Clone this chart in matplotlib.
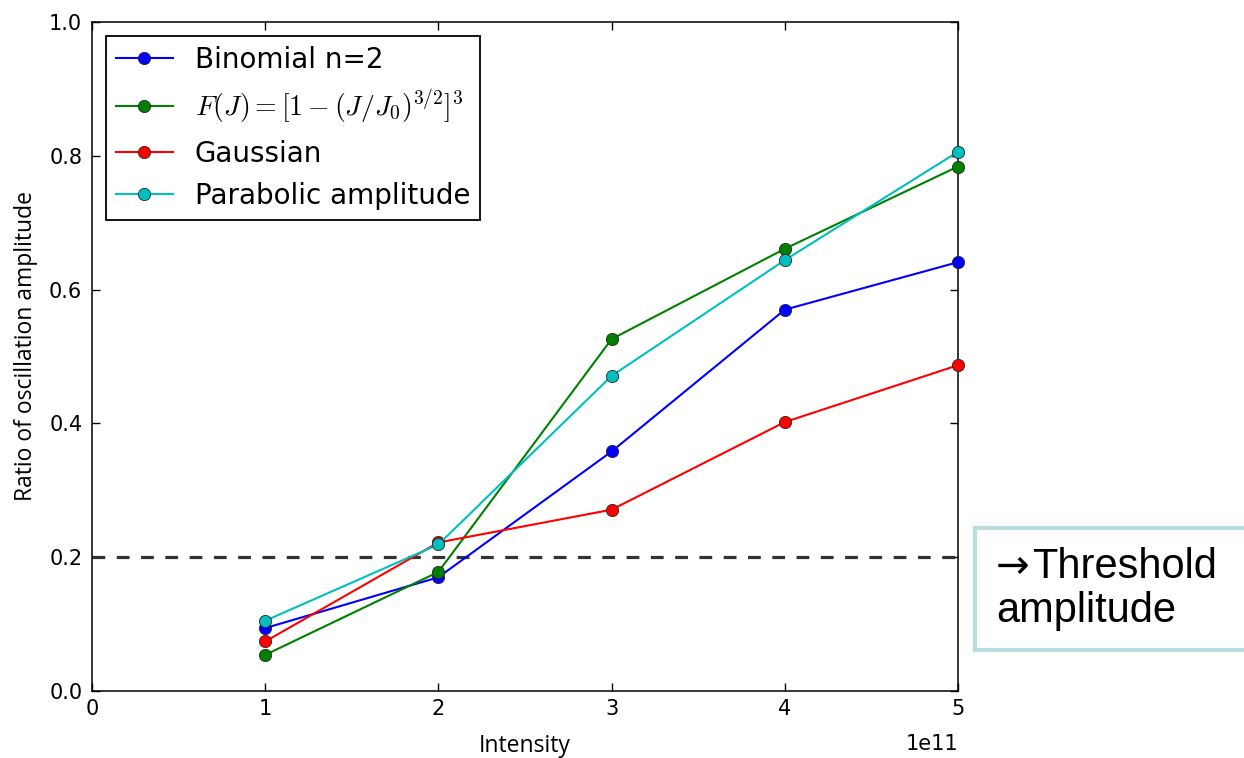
import matplotlib
matplotlib.use('Agg')
import matplotlib.pyplot as plt
import matplotlib.transforms as mtransforms
from matplotlib.patches import Rectangle

# data
intensity = [1e11, 2e11, 3e11, 4e11, 5e11]
binomial = [0.094, 0.170, 0.358, 0.570, 0.641]
fj = [0.054, 0.178, 0.526, 0.661, 0.784]
gaussian = [0.074, 0.222, 0.271, 0.402, 0.487]
parabolic = [0.105, 0.219, 0.471, 0.644, 0.806]
threshold = 0.2

series = [
    (binomial, 'Binomial n=2', 'b'),
    (fj, r'$F(J)=[1-(J/J_0)^{3/2}]^3$', 'g'),
    (gaussian, 'Gaussian', 'r'),
    (parabolic, 'Parabolic amplitude', 'c'),
]

plt.rcParams['mathtext.fontset'] = 'cm'
plt.rcParams['font.family'] = ['DejaVu Sans']

W, H = 1244, 758
fig = plt.figure(figsize=(W / 100, H / 100), dpi=100)
ax = fig.add_axes([92 / W, 1 - 691 / H, (958 - 92) / W, (691 - 22) / H])

for vals, label, col in series:
    ax.plot(intensity, vals, '-o', color=col, label=label, lw=1.5,
            markersize=8.8, markeredgecolor='0.15', markeredgewidth=0.6,
            clip_on=False, zorder=3)

ax.axhline(threshold, color='0.2', lw=2.3, linestyle=(0, (4, 3.6)), zorder=2)

ax.set_xlim(0, 5e11)
ax.set_ylim(0, 1.0)
ax.set_yticks([0.0, 0.2, 0.4, 0.6, 0.8, 1.0])
ax.tick_params(direction='in', top=True, right=True, length=6, width=1,
               labelsize=15)
ax.tick_params(axis='x', pad=6)
ax.tick_params(axis='y', pad=7)
ot = ax.xaxis.get_offset_text()
ot.set_fontsize(15)
ot.set_transform(ot.get_transform() +
                 mtransforms.ScaledTranslation(0, -10 / 100, fig.dpi_scale_trans))
for s in ax.spines.values():
    s.set_linewidth(1.1)

ax.set_xlabel('Intensity', family=['Open Sans', 'DejaVu Sans'], fontsize=16.5)
ax.set_ylabel('Ratio of oscillation amplitude', family=['Open Sans', 'DejaVu Sans'],
              fontsize=16.5)
ax.xaxis.set_label_coords(0.5, -0.064)
ax.yaxis.set_label_coords(-0.062, 0.515)

leg = ax.legend(loc='upper left', fontsize=20, numpoints=1, fancybox=False,
                framealpha=1, edgecolor='black', handlelength=2.05,
                handletextpad=0.8, borderaxespad=0.5, borderpad=0.35,
                labelspacing=0.5)
leg.get_frame().set_linewidth(1.3)

# threshold note box on the right
fig.patches.append(Rectangle((975 / W, 1 - 650 / H), 300 / W, 122 / H,
                             transform=fig.transFigure, facecolor='white',
                             edgecolor='#b7dde0', lw=3))
fig.text(996 / W, 1 - 578 / H, '\u2192', fontsize=29, family='DejaVu Sans',
         va='baseline', ha='left')
fig.text(1032 / W, 1 - 578 / H, 'Threshold', fontsize=30,
         family=['Liberation Sans', 'DejaVu Sans'], va='baseline', ha='left')
fig.text(996 / W, 1 - 622 / H, 'amplitude', fontsize=30,
         family=['Liberation Sans', 'DejaVu Sans'], va='baseline', ha='left')

fig.savefig('out.png', dpi=100)
